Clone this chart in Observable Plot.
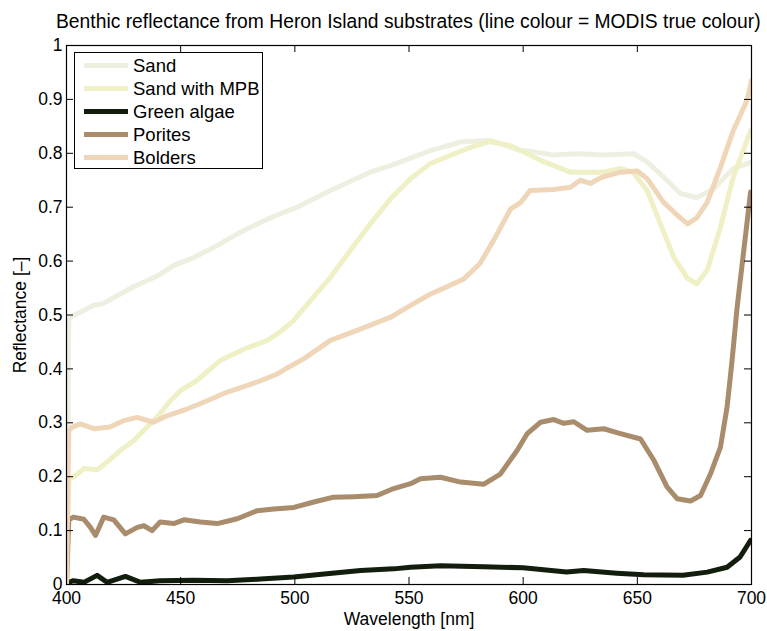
<!DOCTYPE html>
<html><head><meta charset="utf-8">
<script src="https://cdn.jsdelivr.net/npm/d3@7"></script>
<script src="https://cdn.jsdelivr.net/npm/@observablehq/plot@0.6"></script>
<style>
body{margin:0;background:#fff;font-family:"Liberation Sans",Arial,sans-serif;}
#wrap{position:relative;width:767px;height:631px;}
#title{position:absolute;left:56px;width:685px;top:11px;text-align:center;font-size:19.3px;white-space:nowrap;color:#000;}
#legend{position:absolute;left:74px;top:52px;width:187px;height:115px;border:1px solid #000;background:#fff;font-size:18.5px;}
.entry{position:absolute;left:0;height:23px;display:flex;align-items:center;}
.sw{width:44px;height:5px;margin-left:9px;margin-right:5px;}
</style>
</head><body>
<div id="wrap"><div id="chart"></div><div id="title">Benthic reflectance from Heron Island substrates (line colour = MODIS true colour)</div><div id="legend"></div></div>
<script>
const seriesNames = ["Sand", "Sand with MPB", "Green algae", "Porites", "Bolders"];
const seriesColors = ["#eeefe1", "#f0f0c6", "#131d0e", "#a88c6c", "#f0d6b9"];

const sandWl = [400,401,402,406,412,416,421,429,440,447,456,466,475,483.5,492,501,515.6,533,542,559.4,572.6,585.7,599,603,613,623.6,635,648.4,654,660,669,676,683.5,692,699.6];
const sandR  = [0,0.49,0.497,0.505,0.518,0.521,0.533,0.552,0.573,0.592,0.607,0.629,0.651,0.669,0.685,0.70,0.731,0.765,0.777,0.805,0.821,0.824,0.805,0.804,0.797,0.799,0.797,0.799,0.785,0.762,0.725,0.718,0.734,0.772,0.783];

const mpbWl = [400,401,403,407.6,413.4,416,423.7,429.5,435.3,441,445.5,450,457,467.4,478,488,494,499.5,506.9,515.6,524.4,533,542,550.7,559.4,568,577,585.7,594.5,599,607.6,620.7,635,642.6,648,654.3,660,666,672,676,680.6,686.4,692,699.6];
const mpbR  = [0,0.195,0.199,0.215,0.213,0.221,0.249,0.267,0.292,0.317,0.341,0.36,0.378,0.416,0.437,0.453,0.47,0.49,0.527,0.57,0.62,0.669,0.716,0.753,0.781,0.796,0.811,0.822,0.814,0.805,0.787,0.765,0.765,0.772,0.765,0.731,0.67,0.607,0.568,0.558,0.583,0.663,0.756,0.842];

const algaeWl = [400,401,403,407.6,413.4,417.8,425.8,432.4,441,455.7,470.4,485,499.5,514,528.8,543.3,550.7,563.8,582.8,600,619,626.5,641,652.8,670,680.6,689.3,695,699.6];
const algaeR  = [0,0.004,0.007,0.004,0.017,0.004,0.015,0.004,0.007,0.008,0.007,0.010,0.014,0.020,0.026,0.029,0.032,0.035,0.033,0.031,0.023,0.026,0.021,0.018,0.017,0.023,0.032,0.051,0.082];

const poritesWl = [400,401,403,407.6,410.5,412.7,416.3,420.7,425.8,431,433.9,437.5,441,447,451.4,458.7,466,474.8,483.5,490.8,499.6,508.3,517,525.8,536,543.3,550.7,555,563.8,572.6,582.8,590,597.4,601.8,607.6,613.4,617.8,622.2,628,635.3,642.6,651.4,657.3,663,667.5,673.3,677.7,682,686.4,689.3,691.5,693.7,699.6];
const poritesR  = [0,0.12,0.125,0.121,0.106,0.091,0.125,0.120,0.094,0.106,0.109,0.100,0.116,0.113,0.120,0.116,0.113,0.122,0.137,0.140,0.143,0.153,0.162,0.163,0.165,0.178,0.187,0.196,0.199,0.190,0.186,0.205,0.249,0.280,0.301,0.306,0.299,0.302,0.286,0.289,0.280,0.270,0.230,0.181,0.159,0.155,0.165,0.205,0.255,0.329,0.416,0.514,0.728];

const boldersWl = [400,401,402.5,406,412,419,425,431,438,444,453,461.6,470.4,479,485,492,498,504,515.6,527,542,550.7,559.4,568,574,581,587,594.5,599,603,613.4,620.7,625,629.5,634,642.6,650,654.3,661.5,667.5,672,676,680.6,686.4,692,698,700];
const boldersR  = [0,0.285,0.292,0.298,0.289,0.292,0.304,0.310,0.301,0.313,0.326,0.341,0.357,0.369,0.378,0.39,0.405,0.419,0.453,0.471,0.496,0.518,0.539,0.555,0.567,0.595,0.638,0.697,0.709,0.731,0.733,0.737,0.75,0.744,0.755,0.765,0.767,0.753,0.709,0.685,0.669,0.68,0.709,0.774,0.842,0.898,0.935];

const xTicks = [400, 450, 500, 550, 600, 650, 700];
const yTicks = [0, 0.1, 0.2, 0.3, 0.4, 0.5, 0.6, 0.7, 0.8, 0.9, 1];

const wls = [sandWl, mpbWl, algaeWl, poritesWl, boldersWl];
const vals = [sandR, mpbR, algaeR, poritesR, boldersR];
const rows = [];
seriesNames.forEach((name, s) => wls[s].forEach((w, i) => rows.push({series: name, wl: w, r: vals[s][i]})));

// inward tick lengths (7px) expressed in data units of the 685x539 plot area
const tx = 7 * 300 / 685, ty = 7 / 539;

const chart = Plot.plot({
  width: 767, height: 631,
  marginLeft: 66, marginRight: 16, marginTop: 45, marginBottom: 47,
  style: {fontSize: "17.5px", fontFamily: "'Liberation Sans', Arial, sans-serif", color: "#000", background: "#fff"},
  x: {domain: [400, 700]},
  y: {domain: [0, 1]},
  color: {domain: seriesNames, range: seriesColors},
  marks: [
    Plot.line(rows, {x: "wl", y: "r", z: "series", stroke: "series", strokeWidth: 5, strokeLinejoin: "round", clip: true}),
    Plot.ruleX(xTicks, {x: d => d, y1: 0, y2: ty, stroke: "#000"}),
    Plot.ruleX(xTicks, {x: d => d, y1: 1, y2: 1 - ty, stroke: "#000"}),
    Plot.ruleY(yTicks, {y: d => d, x1: 400, x2: 400 + tx, stroke: "#000"}),
    Plot.ruleY(yTicks, {y: d => d, x1: 700, x2: 700 - tx, stroke: "#000"}),
    Plot.frame({stroke: "#000", strokeWidth: 1.2}),
    Plot.axisX(xTicks, {anchor: "bottom", tickSize: 0, tickPadding: 7, label: "Wavelength [nm]", labelAnchor: "center", labelOffset: 40, labelArrow: "none", fontSize: 17.5}),
    Plot.axisY(yTicks, {anchor: "left", tickSize: 0, tickPadding: 4, tickFormat: d => String(d), label: "Reflectance [–]", labelAnchor: "center", labelOffset: 53, labelArrow: "none", fontSize: 17.5})
  ]
});
document.getElementById("chart").appendChild(chart);

const legend = d3.select("#legend");
seriesNames.forEach((name, i) => {
  const e = legend.append("div").attr("class", "entry").style("top", (1 + i * 23) + "px");
  e.append("div").attr("class", "sw").style("background", seriesColors[i]);
  e.append("span").text(name);
});
</script>
</body></html>
